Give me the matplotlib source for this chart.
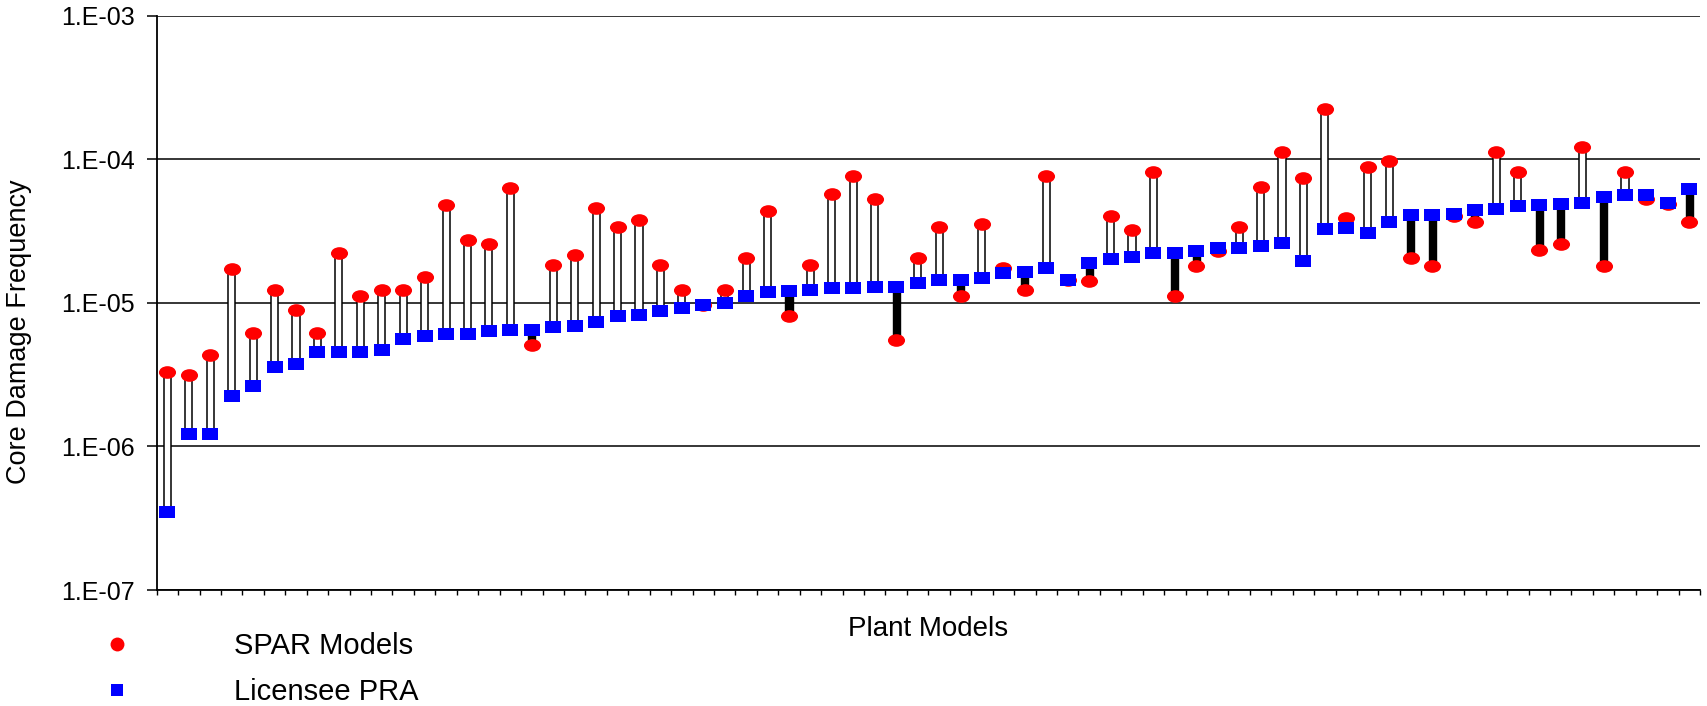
import matplotlib
matplotlib.use("Agg")
import matplotlib.pyplot as plt
import numpy as np
from matplotlib.path import Path
from matplotlib.transforms import Affine2D
from matplotlib.lines import Line2D
from matplotlib.ticker import FixedLocator, NullLocator, NullFormatter

plt.rcParams['font.family'] = ['Liberation Sans', 'DejaVu Sans']

# ---- data ----
plant_index = list(range(1, 73))
spar_models = [3.29e-6, 3.15e-6, 4.3e-6, 1.72e-5, 6.15e-6, 1.22e-5, 8.94e-6, 6.15e-6, 2.22e-5, 1.11e-5,
               1.22e-5, 1.22e-5, 1.52e-5, 4.78e-5, 2.76e-5, 2.55e-5, 6.3e-5, 5.05e-6, 1.83e-5, 2.14e-5,
               4.61e-5, 3.37e-5, 3.78e-5, 1.83e-5, 1.22e-5, 9.6e-6, 1.22e-5, 2.05e-5, 4.36e-5, 8.16e-6,
               1.83e-5, 5.73e-5, 7.69e-5, 5.3e-5, 5.47e-6, 2.05e-5, 3.37e-5, 1.11e-5, 3.56e-5, 1.75e-5,
               1.23e-5, 7.69e-5, 1.45e-5, 1.43e-5, 4.02e-5, 3.22e-5, 8.16e-5, 1.11e-5, 1.81e-5, 2.31e-5,
               3.37e-5, 6.43e-5, 1.12e-4, 7.41e-5, 2.24e-4, 3.91e-5, 8.83e-5, 9.72e-5, 2.05e-5, 1.81e-5,
               4.0e-5, 3.65e-5, 1.12e-4, 8.16e-5, 2.34e-5, 2.55e-5, 1.22e-4, 1.81e-5, 8.16e-5, 5.3e-5,
               4.85e-5, 3.65e-5]
licensee_pra = [3.52e-7, 1.22e-6, 1.22e-6, 2.26e-6, 2.64e-6, 3.56e-6, 3.78e-6, 4.58e-6, 4.58e-6, 4.58e-6,
                4.68e-6, 5.61e-6, 5.92e-6, 6.05e-6, 6.05e-6, 6.41e-6, 6.52e-6, 6.5e-6, 6.84e-6, 6.95e-6,
                7.38e-6, 8.16e-6, 8.29e-6, 8.84e-6, 9.18e-6, 9.68e-6, 9.95e-6, 1.12e-5, 1.19e-5, 1.21e-5,
                1.22e-5, 1.26e-5, 1.26e-5, 1.29e-5, 1.28e-5, 1.38e-5, 1.45e-5, 1.45e-5, 1.5e-5, 1.61e-5,
                1.65e-5, 1.76e-5, 1.45e-5, 1.9e-5, 2.01e-5, 2.1e-5, 2.23e-5, 2.23e-5, 2.31e-5, 2.4e-5,
                2.4e-5, 2.49e-5, 2.59e-5, 1.97e-5, 3.25e-5, 3.33e-5, 3.05e-5, 3.65e-5, 4.1e-5, 4.1e-5,
                4.18e-5, 4.43e-5, 4.53e-5, 4.7e-5, 4.8e-5, 4.87e-5, 4.98e-5, 5.48e-5, 5.61e-5, 5.6e-5,
                4.98e-5, 6.22e-5]
ytick_values = [1e-7, 1e-6, 1e-5, 1e-4, 1e-3]
ytick_labels = ["1.E-07", "1.E-06", "1.E-05", "1.E-04", "1.E-03"]
series_names = ["SPAR Models", "Licensee PRA"]

x = np.array(plant_index, dtype=float)
s = np.array(spar_models)
l = np.array(licensee_pra)

fig = plt.figure(figsize=(17.07, 7.06), dpi=100)
ax = fig.add_axes([0.0918, 0.1643, 0.9041, 0.8135])
ax.set_yscale('log')
ax.set_ylim(1e-7, 1e-3)
ax.set_xlim(0.5, 72.5)

# up/down bars
lo = np.minimum(s, l)
hi = np.maximum(s, l)
up = s >= l
bw = 0.33
ax.bar(x[up], (hi - lo)[up], bottom=lo[up], width=bw, color='white',
       edgecolor='black', linewidth=1.1, zorder=2)
ax.bar(x[~up], (hi - lo)[~up], bottom=lo[~up], width=bw, color='black',
       edgecolor='black', linewidth=1.0, zorder=2)

# elliptical / rectangular markers (stretched like the original)
ell = Path.unit_circle().transformed(Affine2D().scale(1.0, 0.74))
rect = Path([(-1, -0.72), (1, -0.72), (1, 0.72), (-1, 0.72), (-1, -0.72)],
            [Path.MOVETO, Path.LINETO, Path.LINETO, Path.LINETO, Path.CLOSEPOLY])
ax.plot(x, s, linestyle='none', marker=ell, markersize=12.3, color='#FF0000',
        markeredgewidth=0, zorder=3)
ax.plot(x, l, linestyle='none', marker=rect, markersize=12.0, color='#0000FF',
        markeredgewidth=0, zorder=4)

# axes styling
for sp in ['top', 'right']:
    ax.spines[sp].set_visible(False)
for sp in ['left', 'bottom']:
    ax.spines[sp].set_linewidth(1.3)
    ax.spines[sp].set_color('black')
ax.yaxis.set_major_locator(FixedLocator(ytick_values))
ax.set_yticklabels(ytick_labels)
ax.yaxis.set_minor_locator(NullLocator())
ax.yaxis.set_minor_formatter(NullFormatter())
ax.tick_params(axis='y', which='major', direction='out', length=7.5, width=1.1,
               labelsize=18, pad=8)
ax.grid(axis='y', which='major', color='black', linewidth=1.1)
ax.set_axisbelow(True)
ax.set_xticks(np.arange(0.5, 73.0, 1.0))
ax.set_xticklabels([])
ax.tick_params(axis='x', direction='out', length=3.5, width=1.0)

ax.set_xlabel("Plant Models", fontsize=20, labelpad=12)
ax.set_ylabel("Core Damage Frequency", fontsize=19.5)
ax.yaxis.set_label_coords(-0.0805, 0.45)

# legend
h1 = Line2D([], [], linestyle='none', marker='o', markersize=10, color='#FF0000', markeredgewidth=0)
h2 = Line2D([], [], linestyle='none', marker='s', markersize=8, color='#0000FF', markeredgewidth=0)
fig.legend([h1, h2], series_names, loc='upper left', bbox_to_anchor=(102.5 / 1707, 1 - 632 / 706),
           frameon=False, fontsize=21, handlelength=1.0, handletextpad=3.5,
           borderpad=0, borderaxespad=0, labelspacing=0.62)

fig.savefig("out.png", dpi=100)
